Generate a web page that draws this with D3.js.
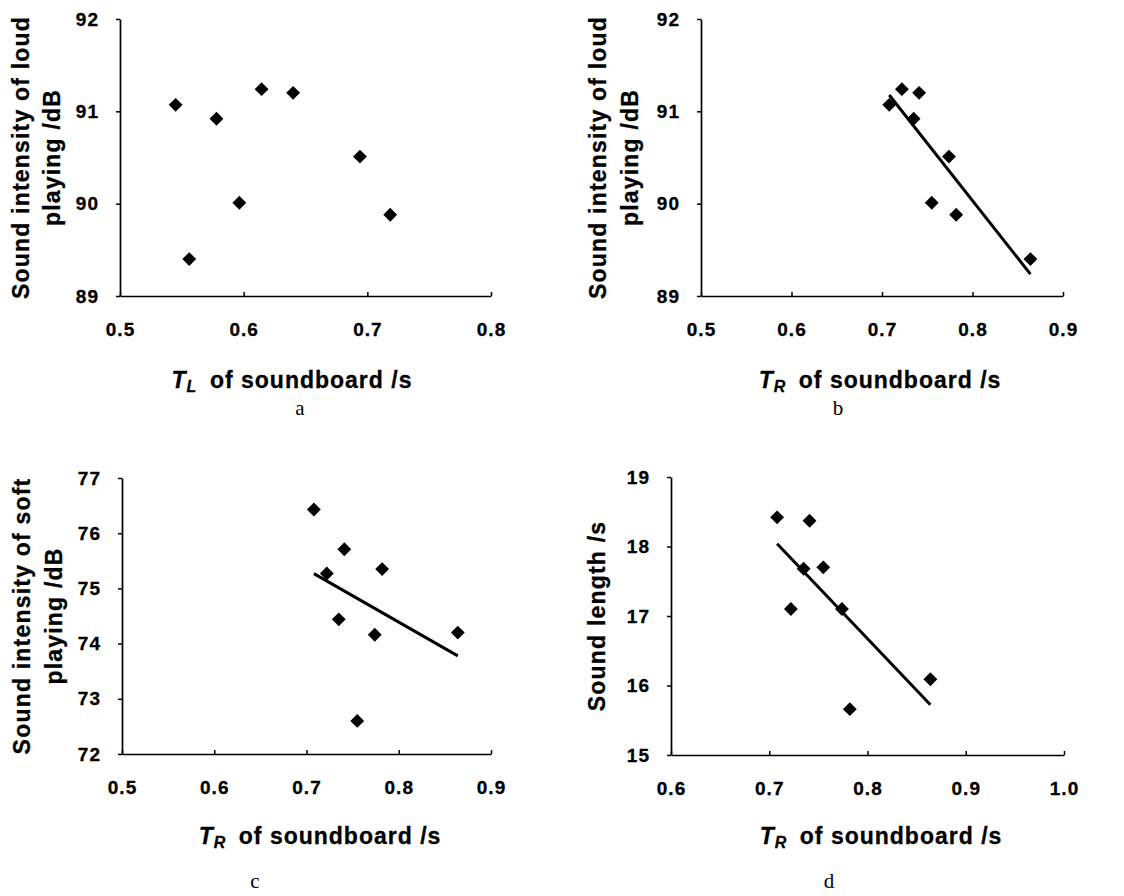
<!DOCTYPE html>
<html>
<head>
<meta charset="utf-8">
<script src="https://cdn.jsdelivr.net/npm/d3@7"></script>
<style>
  body { margin: 0; background: #ffffff; }
  svg { display: block; }
</style>
</head>
<body>
<svg id="chart" width="1124" height="896"></svg>
<script>
// ----------- DATA ----------------------------------
// reverberation time of the soundboard, one value per instrument
const trValues = [0.708, 0.722, 0.735, 0.741, 0.755, 0.774, 0.782, 0.864];
const tlValues = [0.545, 0.6145, 0.578, 0.640, 0.5965, 0.694, 0.7185, 0.556];
// sound intensity of loud / soft playing (dB), sound length (s)
const loudDb = [91.07, 91.24, 90.92, 91.20, 90.01, 90.51, 89.88, 89.40];
const softDb = [76.43, 75.27, 74.44, 75.71, 72.60, 74.16, 75.35, 74.20];
const soundLength = [18.42, 17.10, 17.68, 18.37, 17.70, 17.10, 15.66, 16.09];

// tick labels
const xTicksA = [0.5, 0.6, 0.7, 0.8];
const xTicksBC = [0.5, 0.6, 0.7, 0.8, 0.9];
const xTicksD = [0.6, 0.7, 0.8, 0.9, 1.0];
const yTicksLoud = [89, 90, 91, 92];
const yTicksSoft = [72, 73, 74, 75, 76, 77];
const yTicksLength = [15, 16, 17, 18, 19];

// ----------- PANEL SETUP ------------
const FONT = "'Liberation Sans', Arial, sans-serif";
const svg = d3.select("#chart");

const panels = [
    { xs: tlValues, ys: loudDb, xTicks: xTicksA, yTicks: yTicksLoud, trend: false,
      box: [120, 491, 19, 296], sub: "L", yTitle: ["Sound intensity of loud", "playing /dB"],
      yTitleX: [21, 52], xTitleX: 292, xTitleY: 380, letter: "a", letterX: 300, letterY: 415 },
    { xs: trValues, ys: loudDb, xTicks: xTicksBC, yTicks: yTicksLoud, trend: true,
      box: [701, 1063, 19, 296], sub: "R", yTitle: ["Sound intensity of loud", "playing /dB"],
      yTitleX: [598, 630], xTitleX: 880, xTitleY: 380, letter: "b", letterX: 838, letterY: 415 },
    { xs: trValues, ys: softDb, xTicks: xTicksBC, yTicks: yTicksSoft, trend: true,
      box: [122, 491, 478, 754], sub: "R", yTitle: ["Sound intensity of soft", "playing /dB"],
      yTitleX: [22, 54], xTitleX: 320, xTitleY: 836, letter: "c", letterX: 255, letterY: 888 },
    { xs: trValues, ys: soundLength, xTicks: xTicksD, yTicks: yTicksLength, trend: true,
      box: [671, 1064, 477, 755], sub: "R", yTitle: ["Sound length /s"],
      yTitleX: [597], xTitleX: 881, xTitleY: 836, letter: "d", letterX: 829, letterY: 888 }
];

// least squares fit, drawn over the range of the data
const linearFit = (xs, ys) => {
    const mx = d3.mean(xs), my = d3.mean(ys);
    const sxy = d3.sum(xs, (x, i) => (x - mx) * (ys[i] - my));
    const sxx = d3.sum(xs, x => (x - mx) * (x - mx));
    const slope = sxy / sxx;
    return x => my + slope * (x - mx);
};

const diamond = d3.symbol().type(d3.symbolSquare).size(96);

const styleTicks = (ax) => {
    ax.attr("font-family", FONT).attr("font-size", 19).attr("font-weight", "bold");
    ax.select(".domain").attr("stroke", "#000").attr("stroke-width", 1.7);
    ax.selectAll(".tick line").attr("stroke", "#000").attr("stroke-width", 1.5);
    ax.selectAll(".tick text")
        .attr("fill", "#000")
        .attr("stroke", "#000")
        .attr("stroke-width", 0.3)
        .attr("letter-spacing", "1px");
};

panels.forEach(p => {
    const [x0, x1, y0, y1] = p.box;
    const x = d3.scaleLinear().domain(d3.extent(p.xTicks)).range([x0, x1]);
    const y = d3.scaleLinear().domain(d3.extent(p.yTicks)).range([y1, y0]);
    const g = svg.append("g");

    // y axis, ticks outward
    g.append("g")
        .attr("transform", `translate(${x0},0)`)
        .call(d3.axisLeft(y).tickValues(p.yTicks).tickFormat(d3.format("d"))
            .tickSizeInner(4).tickSizeOuter(0).tickPadding(17))
        .call(styleTicks);
    // x axis, ticks inward
    g.append("g")
        .attr("transform", `translate(0,${y1})`)
        .call(d3.axisBottom(x).tickValues(p.xTicks).tickFormat(d3.format(".1f"))
            .tickSizeInner(-4).tickSizeOuter(0).tickPadding(27))
        .call(styleTicks);

    // regression line
    if (p.trend) {
        const fit = linearFit(p.xs, p.ys);
        const [xa, xb] = d3.extent(p.xs);
        g.append("line")
            .attr("x1", x(xa)).attr("y1", y(fit(xa)))
            .attr("x2", x(xb)).attr("y2", y(fit(xb)))
            .attr("stroke", "#000")
            .attr("stroke-width", 3);
    }

    // markers
    g.selectAll("path.pt")
        .data(p.xs.map((v, i) => [v, p.ys[i]]))
        .join("path")
        .attr("class", "pt")
        .attr("d", diamond)
        .attr("transform", d => `translate(${x(d[0])},${y(d[1])}) rotate(45)`)
        .attr("fill", "#000");

    // y axis title
    const yc = (y0 + y1) / 2;
    p.yTitle.forEach((line, i) => {
        g.append("text")
            .attr("transform", `translate(${p.yTitleX[i]},${yc}) rotate(-90)`)
            .attr("text-anchor", "middle")
            .attr("dominant-baseline", "central")
            .attr("font-family", FONT)
            .attr("font-size", 23)
            .attr("font-weight", "bold")
            .attr("stroke", "#000")
            .attr("stroke-width", 0.3)
            .attr("letter-spacing", "1.2px")
            .text(line);
    });

    // x axis title with subscript
    const xt = g.append("text")
        .attr("x", p.xTitleX)
        .attr("y", p.xTitleY)
        .attr("text-anchor", "middle")
        .attr("dominant-baseline", "central")
        .attr("font-family", FONT)
        .attr("font-size", 23)
        .attr("font-weight", "bold")
        .attr("stroke", "#000")
        .attr("stroke-width", 0.3)
        .attr("letter-spacing", "1px");
    xt.append("tspan").attr("font-style", "italic").text("T");
    xt.append("tspan").attr("font-style", "italic").attr("font-size", 16)
        .attr("dy", 6).text(p.sub);
    xt.append("tspan").attr("dy", -6).text("\u2002of soundboard /s");

    // panel letter
    g.append("text")
        .attr("x", p.letterX)
        .attr("y", p.letterY)
        .attr("text-anchor", "middle")
        .attr("font-family", "'Liberation Serif', 'Times New Roman', serif")
        .attr("font-size", 21)
        .text(p.letter);
});
</script>
</body>
</html>
